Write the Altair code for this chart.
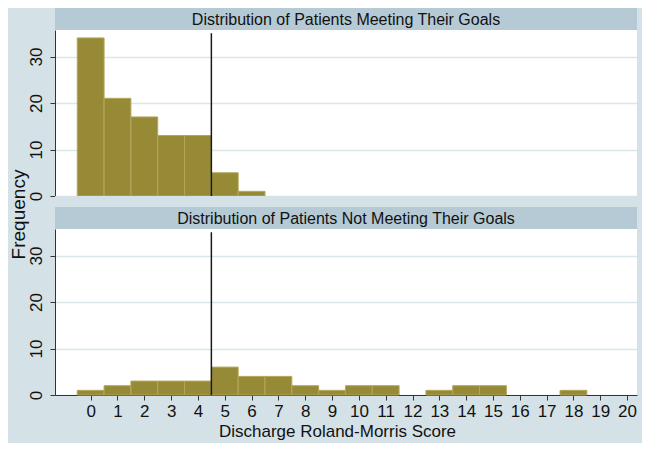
import altair as alt
import pandas as pd

# ---- data ----
scores_meet = [0, 1, 2, 3, 4, 5, 6]
counts_meet = [34, 21, 17, 13, 13, 5, 1]
scores_not = [0, 1, 2, 3, 4, 5, 6, 7, 8, 9, 10, 11, 12, 13, 14, 15, 16, 17, 18]
counts_not = [1, 2, 3, 3, 3, 6, 4, 4, 2, 1, 2, 2, 0, 1, 2, 2, 0, 0, 1]
x_ticks = list(range(0, 21))
y_ticks = [0, 10, 20, 30]
cutoff = [4.5]
cutoff_top = [35]
panel_titles = ["Distribution of Patients Meeting Their Goals",
                "Distribution of Patients Not Meeting Their Goals"]
x_title = "Discharge Roland-Morris Score"
y_title = "Frequency"

# ---- style ----
FONT = "Liberation Sans"
BG = "#d4e1e7"
HDR = "#b5cad5"
BAR = "#978a37"
EDGE = "#b3a65b"
GRID = "#dbe6eb"
AXIS = "#333333"
W = 582
H = 166
HH = 22
GAP = 11

xscale = alt.Scale(domain=[-1.33, 20.37], nice=False, zero=False)
yscale = alt.Scale(domain=[0, 35.7], nice=False)


def hist_df(scores, counts):
    rows = [{"x0": s - 0.5, "x1": s + 0.5, "count": c}
            for s, c in zip(scores, counts) if c > 0]
    return pd.DataFrame(rows)


def y_axis(with_title):
    kw = dict(values=y_ticks, labelAngle=270, labelAlign="center",
              labelBaseline="bottom", labelPadding=5, tickSize=5,
              labelFontSize=17, labelColor="#111", grid=True,
              gridColor=GRID, gridWidth=1.5, domainColor=AXIS,
              tickColor=AXIS, labelFlush=False)
    if with_title:
        kw.update(title=y_title, titleX=-37, titleY=-15, titleAngle=270,
                  titleAlign="center", titleBaseline="middle",
                  titleFontSize=19, titleFontWeight="normal",
                  titleColor="#111")
    else:
        kw.update(title=None)
    return alt.Axis(**kw)


def x_axis(show):
    if not show:
        return None
    return alt.Axis(values=x_ticks, title=x_title, labelFontSize=17,
                    labelColor="#111", titleFontSize=17,
                    titleFontWeight="normal", titleColor="#111",
                    tickSize=5, labelPadding=3, domainColor=AXIS,
                    tickColor=AXIS, grid=False, titleX=282,
                    titleAlign="center", titlePadding=4, labelFlush=False)


def plot(scores, counts, show_x, with_ytitle):
    xa = x_axis(show_x)
    ya = y_axis(with_ytitle)
    bars = alt.Chart(hist_df(scores, counts)).mark_rect(
        color=BAR, stroke=EDGE, strokeWidth=1
    ).encode(
        x=alt.X("x0:Q", scale=xscale, axis=xa),
        x2="x1:Q",
        y=alt.Y("count:Q", scale=yscale, axis=ya),
        y2=alt.datum(0),
    )
    rule_df = pd.DataFrame({"x0": cutoff, "y0": [0], "count": cutoff_top})
    rule = alt.Chart(rule_df).mark_rule(color="#1a1a1a", strokeWidth=1.5).encode(
        x=alt.X("x0:Q", scale=xscale, axis=xa),
        y=alt.Y("y0:Q", scale=yscale, axis=ya),
        y2="count:Q",
    )
    return alt.layer(bars, rule).properties(width=W, height=H)


def header(text, gap):
    df = pd.DataFrame({"t": [text]})
    base = alt.Chart(df)
    layers = []
    if gap > 0:
        layers.append(base.mark_rect(color=BG).encode(
            x=alt.value(0), x2=alt.value(W), y=alt.value(0), y2=alt.value(gap)))
    layers.append(base.mark_rect(color=HDR).encode(
        x=alt.value(0), x2=alt.value(W), y=alt.value(gap), y2=alt.value(gap + HH)))
    layers.append(base.mark_text(font=FONT, fontSize=16, color="#111",
                                 baseline="middle", align="center").encode(
        x=alt.value(W / 2), y=alt.value(gap + HH / 2 + 0.5), text="t:N"))
    return alt.layer(*layers).properties(width=W, height=gap + HH)


chart = alt.vconcat(
    header(panel_titles[0], 0),
    plot(scores_meet, counts_meet, False, False),
    header(panel_titles[1], GAP),
    plot(scores_not, counts_not, True, True),
    spacing=0,
    bounds="flush",
).properties(
    background=BG,
    padding={"left": 0, "top": 0, "right": 5, "bottom": 4},
).configure(
    font=FONT
).configure_view(
    fill="white", strokeWidth=0
)

chart.save("out.html", embed_options={"renderer": "svg", "actions": False})
